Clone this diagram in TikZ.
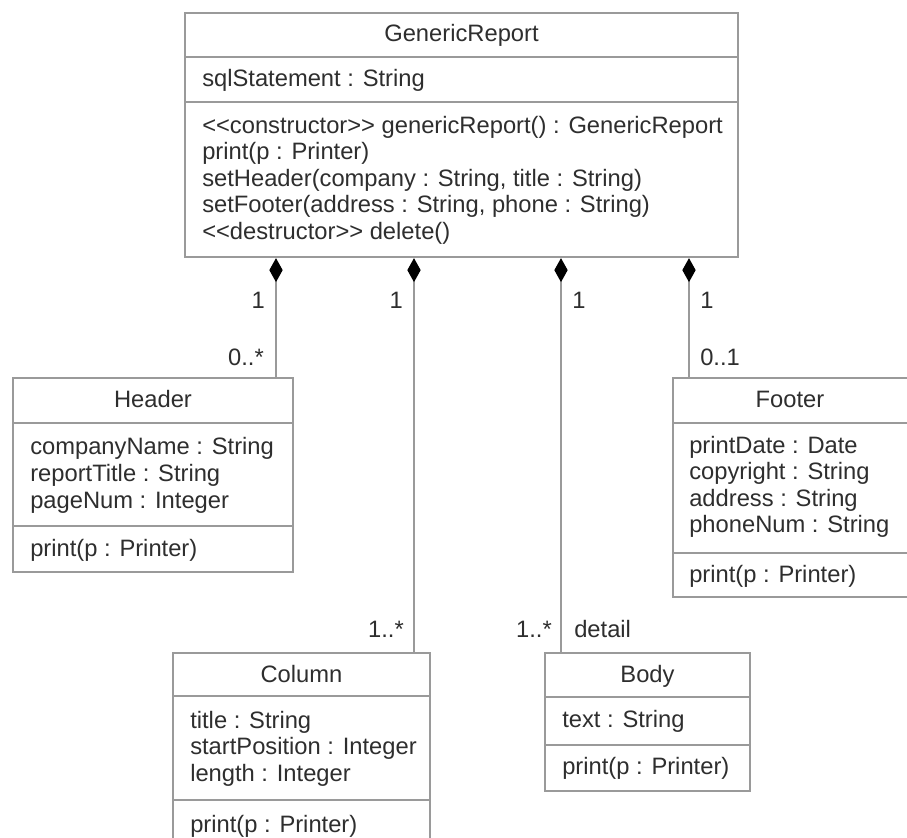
\documentclass[tikz,border=0pt]{standalone}
\usepackage{fontspec}
\setmainfont{Liberation Sans}
\usetikzlibrary{arrows.meta,fit}
\definecolor{boxgray}{HTML}{9A9A9A}
\definecolor{txtgray}{HTML}{2E2E2E}
\begin{document}
\begin{tikzpicture}[x=0.75pt,y=-0.75pt,
  classbox/.style={draw=boxgray, line width=1.7pt, inner sep=0pt, fill=none},
  sepline/.style={draw=boxgray, line width=1.7pt},
  txt/.style={inner sep=0pt, text height=13pt, text depth=3.6pt, text=txtgray,
    font=\fontsize{17.8}{20}\selectfont, anchor=west},
  ttl/.style={txt, anchor=center},
  lbl/.style={txt},
  comp/.style={draw=boxgray, line width=1.5pt,
    {Diamond[length=18pt,width=10pt,fill=black,color=black]}-{}}
]
\useasboundingbox (0,0) rectangle (907,838);
\fill[white] (0,0) rectangle (907,838);
\clip (0,0) rectangle (907,838);

% ---------- GenericReport ----------
\node[classbox, fit={(185,13) (738,257)}] (gr) {};
\draw[sepline] (185,57) -- (738,57);
\draw[sepline] (185,102) -- (738,102);
\node[ttl] (grt) at (461.5,35) {GenericReport};
\node[txt] (gra) at (202,80) {sqlStatement : String};
\node[txt] (grm1) at (202,127) {<{}<constructor>{}> genericReport() : GenericReport};
\node[txt] (grm2) at (202,153.5) {print(p : Printer)};
\node[txt] (grm3) at (202,180) {setHeader(company : String, title : String)};
\node[txt] (grm4) at (202,206.5) {setFooter(address : String, phone : String)};
\node[txt] (grm5) at (202,233) {<{}<destructor>{}> delete()};

% ---------- Header ----------
\node[classbox, fit={(13,378) (293,572)}] (hd) {};
\draw[sepline] (13,423) -- (293,423);
\draw[sepline] (13,526) -- (293,526);
\node[ttl] (hdt) at (153,401) {Header};
\node[txt] (hda1) at (30,448) {companyName : String};
\node[txt] (hda2) at (30,475) {reportTitle : String};
\node[txt] (hda3) at (30,502) {pageNum : Integer};
\node[txt] (hdm1) at (30,550) {print(p : Printer)};

% ---------- Footer ----------
\node[classbox, fit={(673,378) (910,597)}] (ft) {};
\draw[sepline] (673,423) -- (910,423);
\draw[sepline] (673,553) -- (910,553);
\node[ttl] (ftt) at (790,401) {Footer};
\node[txt] (fta1) at (689,447) {printDate : Date};
\node[txt] (fta2) at (689,473.5) {copyright : String};
\node[txt] (fta3) at (689,500) {address : String};
\node[txt] (fta4) at (689,526.5) {phoneNum : String};
\node[txt] (ftm1) at (689,576) {print(p : Printer)};

% ---------- Column ----------
\node[classbox, fit={(173,653) (430,852)}] (col) {};
\draw[sepline] (173,696) -- (430,696);
\draw[sepline] (173,800) -- (430,800);
\node[ttl] (colt) at (301.5,676) {Column};
\node[txt] (cola1) at (190,722) {title : String};
\node[txt] (cola2) at (190,748.5) {startPosition : Integer};
\node[txt] (cola3) at (190,775) {length : Integer};
\node[txt] (colm1) at (190,826) {print(p : Printer)};

% ---------- Body ----------
\node[classbox, fit={(545,653) (750,791)}] (bd) {};
\draw[sepline] (545,697) -- (750,697);
\draw[sepline] (545,745) -- (750,745);
\node[ttl] (bdt) at (647.5,676) {Body};
\node[txt] (bda1) at (562,721) {text : String};
\node[txt] (bdm1) at (562,768) {print(p : Printer)};

% ---------- Compositions ----------
\draw[comp] (gr.south -| 276,0) -- (hd.north -| 276,0);
\draw[comp] (gr.south -| 414,0) -- (col.north -| 414,0);
\draw[comp] (gr.south -| 561,0) -- (bd.north -| 561,0);
\draw[comp] (gr.south -| 689,0) -- (ft.north -| 689,0);

% ---------- Multiplicities ----------
\node[lbl, anchor=east] (m1) at (265,302) {1};
\node[lbl, anchor=east] (m2) at (264,359) {0..*};
\node[lbl, anchor=east] (m3) at (403,302) {1};
\node[lbl, anchor=east] (m4) at (404,631) {1..*};
\node[lbl] (m5) at (572,302) {1};
\node[lbl, anchor=east] (m6) at (552,631) {1..*};
\node[lbl] (m7) at (574,631) {detail};
\node[lbl] (m8) at (700,302) {1};
\node[lbl] (m9) at (700,359) {0..1};
\end{tikzpicture}
\end{document}
